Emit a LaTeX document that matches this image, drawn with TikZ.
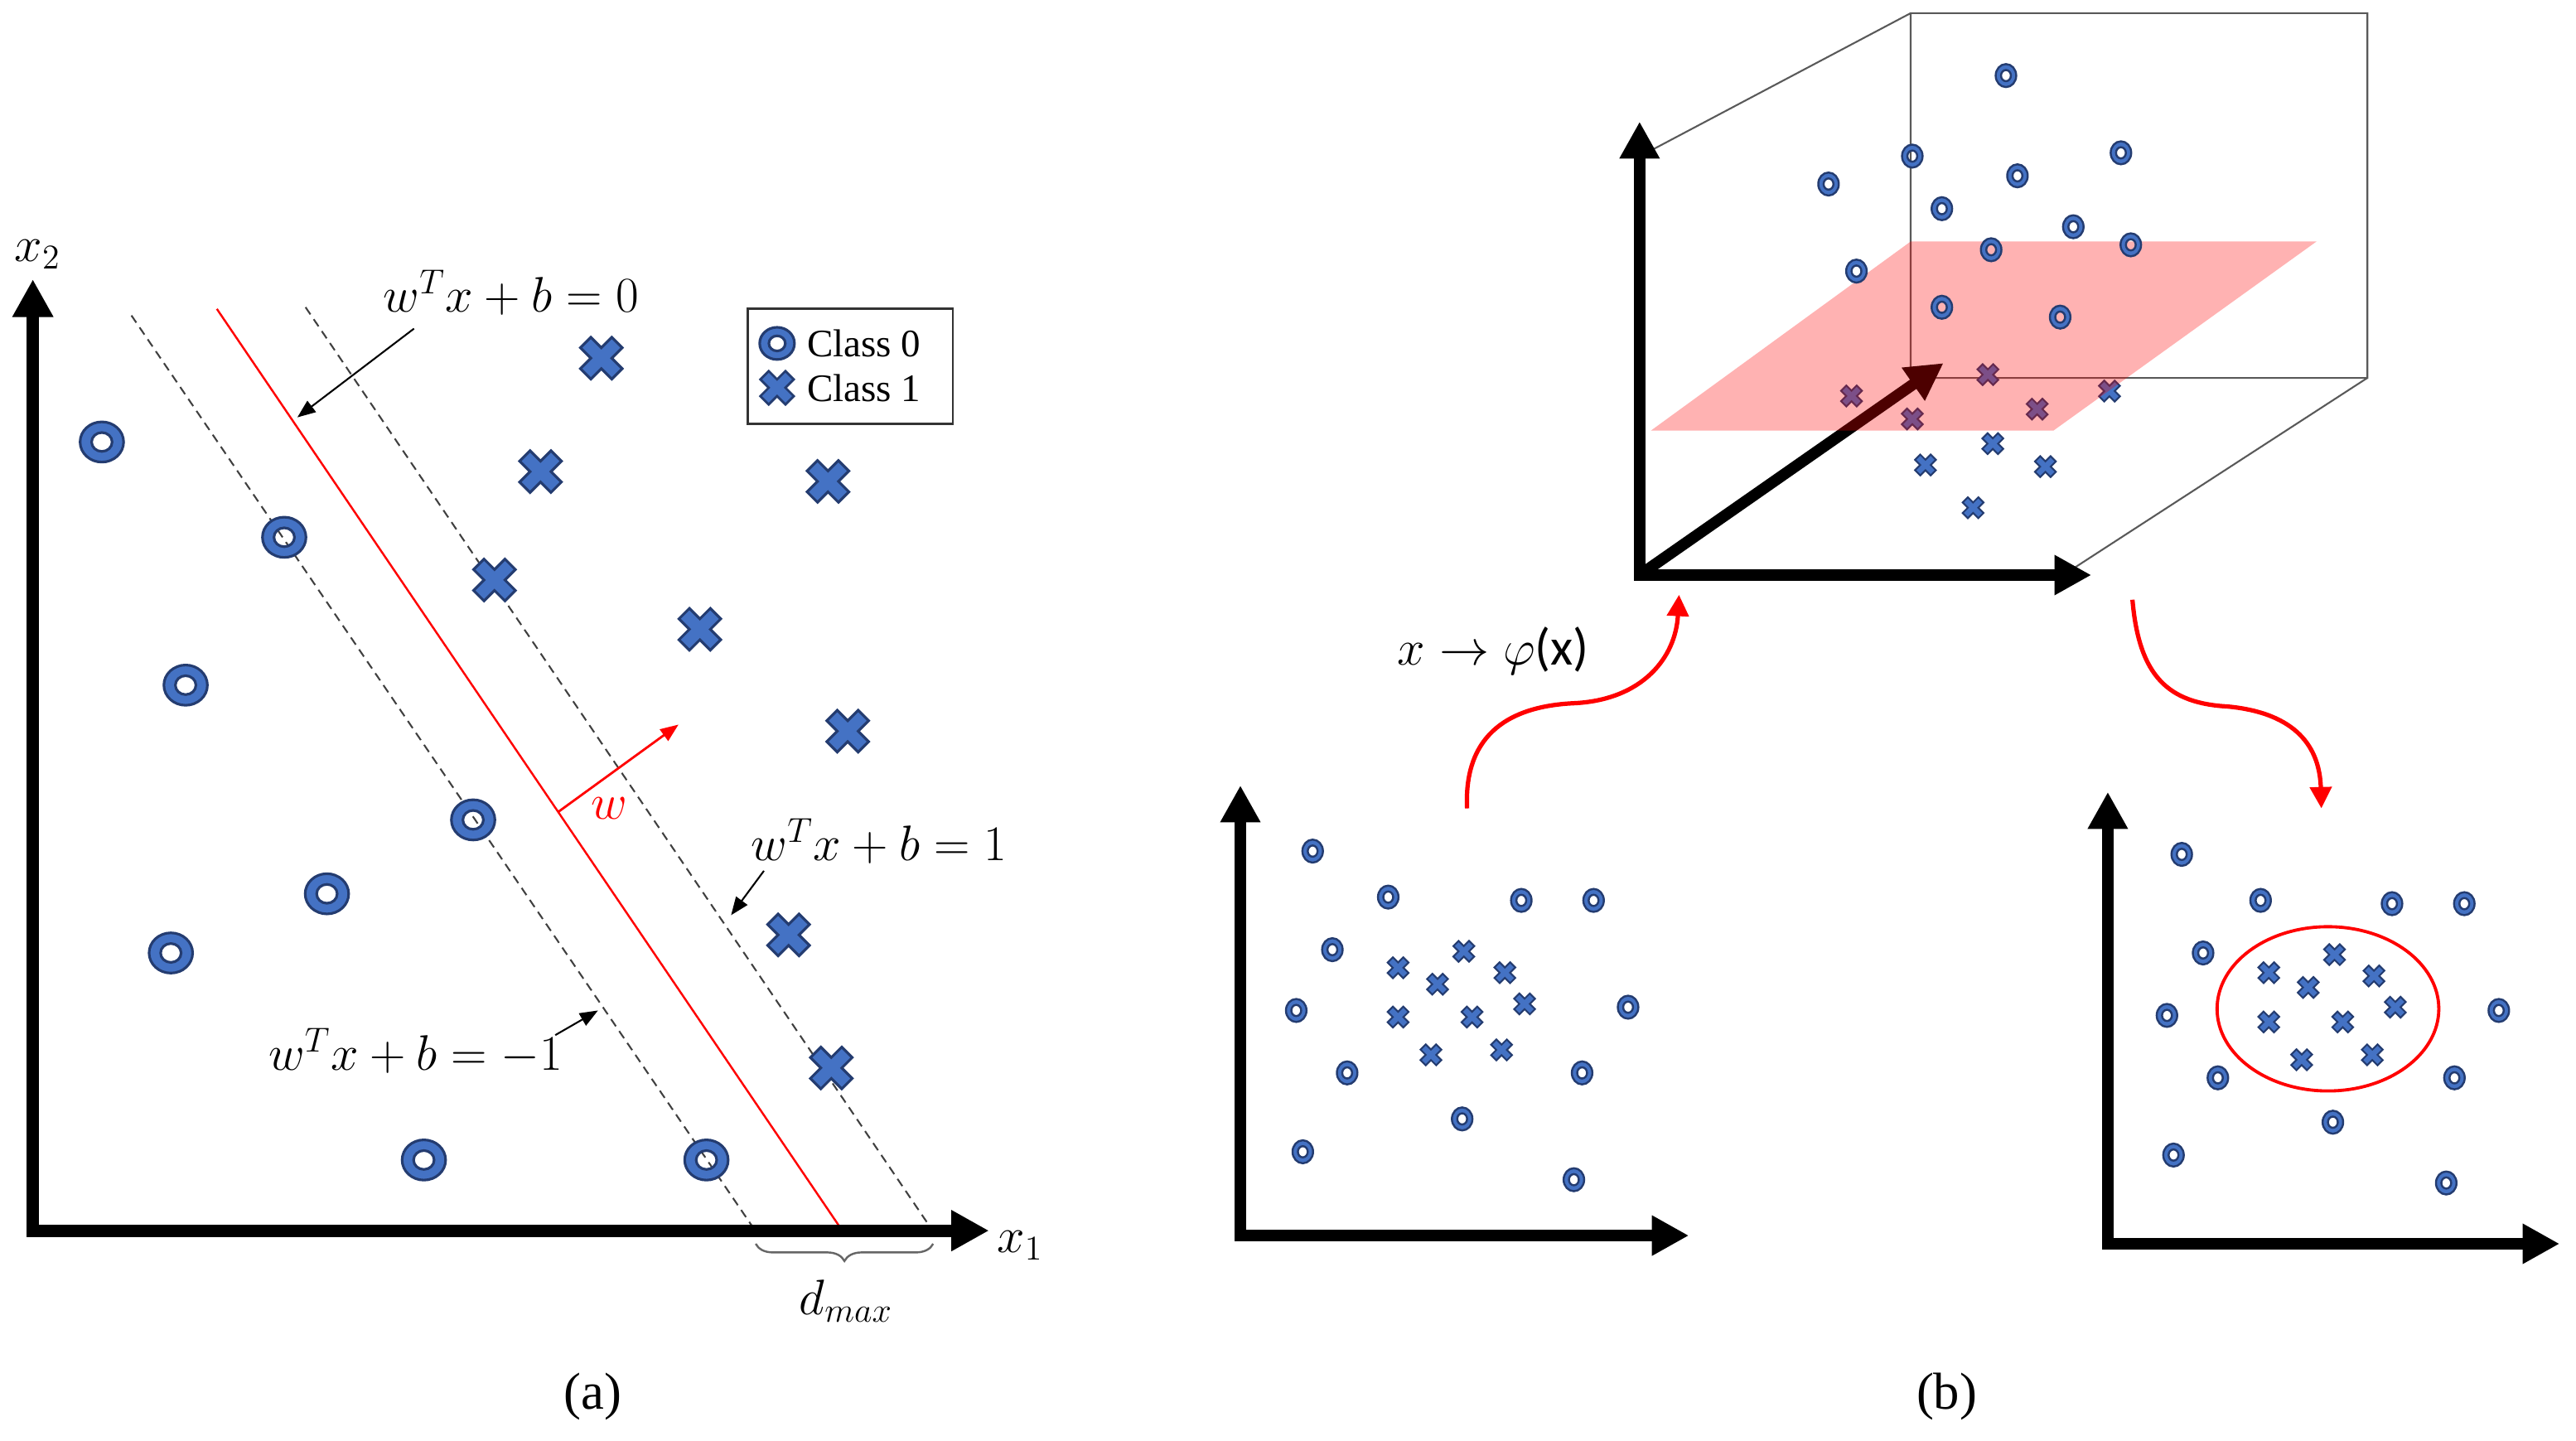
\documentclass[tikz,border=0pt]{standalone}
\usepackage{fontspec}
\setmainfont{Liberation Serif}
\newfontfamily\calfont{Carlito}
\usetikzlibrary{arrows.meta,decorations.pathreplacing,shapes.geometric}
\definecolor{mblue}{RGB}{68,114,196}
\definecolor{mdark}{RGB}{36,60,112}
\tikzset{
  pics/bigring/.style={code={
    \path[fill=mblue,draw=mdark,line width=0.9pt,even odd rule]
      (0,0) ellipse [x radius=0.265cm, y radius=0.245cm]
      (0,0) ellipse [x radius=0.125cm, y radius=0.115cm];}},
  pics/smallring/.style={code={
    \path[fill=mblue,draw=mdark,line width=0.7pt,even odd rule]
      (0,0) ellipse [x radius=0.125cm, y radius=0.14cm]
      (0,0) ellipse [x radius=0.06cm, y radius=0.068cm];}},
  pics/crossmark/.style={code={
    \path[fill=mblue,draw=mdark,line width=#1,rotate=45]
      (-0.09cm,0.27cm) -- (0.09cm,0.27cm) -- (0.09cm,0.09cm) -- (0.27cm,0.09cm)
      -- (0.27cm,-0.09cm) -- (0.09cm,-0.09cm) -- (0.09cm,-0.27cm) -- (-0.09cm,-0.27cm)
      -- (-0.09cm,-0.09cm) -- (-0.27cm,-0.09cm) -- (-0.27cm,0.09cm) -- (-0.09cm,0.09cm) -- cycle;}},
  bigaxis/.style={line width=4.3pt, line join=miter,
    arrows={Triangle[width=0.47cm,length=0.46cm]-Triangle[width=0.47cm,length=0.46cm]}},
  smallaxis/.style={line width=3.9pt, line join=miter,
    arrows={Triangle[width=0.46cm,length=0.45cm]-Triangle[width=0.46cm,length=0.45cm]}},
  diagaxis/.style={line width=3.9pt, arrows={-Triangle[width=0.46cm,length=0.45cm]}},
  dashline/.style={dash pattern=on 3pt off 2pt, line width=0.6pt, black!75},
  lblarrow/.style={line width=0.6pt, arrows={-Triangle[width=0.17cm,length=0.22cm]}},
  mathlbl/.style={font=\fontsize{17}{20}\selectfont, inner sep=1pt},
  cubeline/.style={line width=0.6pt, black!65},
  mapcurve/.style={red, line width=1.5pt, arrows={-Triangle[width=0.26cm,length=0.26cm]}},
  caption/.style={font=\fontsize{18}{21}\selectfont}
}
\begin{document}
\begin{tikzpicture}[x=0.02cm,y=-0.02cm]
\useasboundingbox (0,0) rectangle (1568,877);
% ---------------- panel (a) ----------------
\coordinate (dl1) at (80,192);  \coordinate (dl2) at (459,748);
\coordinate (rl1) at (132,188); \coordinate (rl2) at (512,748);
\coordinate (dr1) at (186,187); \coordinate (dr2) at (567,748);
\draw[dashline] (dl1) -- (dl2);
\draw[dashline] (dr1) -- (dr2);
\draw[red, line width=0.7pt] (rl1) -- (rl2);
% w vector
\coordinate (ws) at (340,494); \coordinate (we) at (413,441);
\draw[red, line width=0.8pt, arrows={-Triangle[width=0.17cm,length=0.22cm]}] (ws) -- (we);
\node[mathlbl, red] (wlbl) at (371,492) {$w$};
% axes
\coordinate (ya) at (20,170); \coordinate (oa) at (20,749); \coordinate (xa) at (602,749);
\draw[bigaxis] (ya) -- (oa) -- (xa);
\node[mathlbl] (x2lbl) at (23,155) {$x_2$};
\node[mathlbl] (x1lbl) at (621,758) {$x_1$};
% labels
\node[mathlbl] (l0) at (311,178) {$w^Tx+b=0$};
\coordinate (l0s) at (252,200); \coordinate (l0e) at (181,254);
\draw[lblarrow] (l0s) -- (l0e);
\node[mathlbl] (l1) at (535,512) {$w^Tx+b=1$};
\coordinate (l1s) at (465,530); \coordinate (l1e) at (445,557);
\draw[lblarrow] (l1s) -- (l1e);
\node[mathlbl] (lm1) at (253,640) {$w^Tx+b=-1$};
\coordinate (lm1s) at (338,630); \coordinate (lm1e) at (364,615);
\draw[lblarrow] (lm1s) -- (lm1e);
% brace
\coordinate (b1) at (460,757); \coordinate (b2) at (568,757);
\draw[decorate, decoration={brace, mirror, amplitude=0.21cm}, black!60, line width=0.7pt] (b1) -- (b2);
\node[mathlbl] (dmax) at (515,792) {$d_{max}$};
% points
\foreach \x/\y in {62/269,173/327,113/417,288/499,199/544,104/580,258/706,430/706}
  \pic at (\x,\y) {bigring};
\foreach \x/\y in {366/218,329/287,504/293,301/353,426/383,516/445,480/569,506/650}
  \pic at (\x,\y) {crossmark=0.9pt};
% legend
\draw[line width=0.8pt, black!80] (455,188) rectangle (580,258);
\pic[scale=0.8] at (473,209) {bigring};
\pic[scale=0.8] at (473,236) {crossmark=0.8pt};
\node[anchor=west, font=\fontsize{13.5}{16}\selectfont, inner sep=0pt] (c0) at (491,209) {Class 0};
\node[anchor=west, font=\fontsize{13.5}{16}\selectfont, inner sep=0pt] (c1) at (491,236) {Class 1};
\node[caption] (capa) at (361,850) {(a)};
% ---------------- panel (b): 3D ----------------
\coordinate (k1) at (1163,8);  \coordinate (k2) at (1441,8);
\coordinate (k3) at (1441,230); \coordinate (k4) at (1163,230);
\coordinate (k5) at (1006,91); \coordinate (k6) at (1262,346);
\draw[cubeline] (k5) -- (k1) -- (k2) -- (k3) -- (k4) -- (k1);
\draw[cubeline] (k3) -- (k6);
\coordinate (o3) at (998,350); \coordinate (z3) at (998,74); \coordinate (x3) at (1273,350);
\coordinate (d3) at (1183,221);
\draw[smallaxis] (z3) -- (o3) -- (x3);
\draw[diagaxis] (o3) -- (d3);
% crosses under the plane
\foreach \x/\y in {1127/241,1164/255,1210/228,1240/249,1284/238}
  \pic[scale=0.5] at (\x,\y) {crossmark=0.6pt};
\fill[red, opacity=0.3] (1005,262) -- (1163,147) -- (1410,147) -- (1250,262) -- cycle;
\foreach \x/\y in {1213/270,1172/283,1245/284,1201/309}
  \pic[scale=0.5] at (\x,\y) {crossmark=0.6pt};
\foreach \x/\y in {1221/46,1113/112,1164/95,1291/93,1228/107,1182/127,1262/138,1297/149,1130/165,1212/152,1182/187,1254/193}
  \pic at (\x,\y) {smallring};
% ---------------- panel (b): bottom left ----------------
\coordinate (o4) at (755,752); \coordinate (z4) at (755,478); \coordinate (x4) at (1028,752);
\draw[smallaxis] (z4) -- (o4) -- (x4);
\foreach \x/\y in {799/518,845/546,926/548,970/548,811/578,789/615,991/613,820/653,963/653,890/681,793/701,958/718}
  \pic at (\x,\y) {smallring};
\foreach \x/\y in {891/579,851/589,916/592,875/599,928/611,851/619,896/619,871/642,914/639}
  \pic[scale=0.5] at (\x,\y) {crossmark=0.6pt};
% ---------------- panel (b): bottom right ----------------
\coordinate (o5) at (1283,757); \coordinate (z5) at (1283,482); \coordinate (x5) at (1558,757);
\draw[smallaxis] (z5) -- (o5) -- (x5);
\foreach \x/\y in {1328/520,1376/548,1456/550,1500/550,1341/580,1319/618,1521/615,1350/656,1494/656,1420/683,1323/703,1489/720}
  \pic at (\x,\y) {smallring};
\foreach \x/\y in {1421/581,1381/592,1445/594,1405/601,1458/613,1381/622,1426/622,1401/645,1444/642}
  \pic[scale=0.5] at (\x,\y) {crossmark=0.6pt};
\node[draw=red, line width=1.1pt, ellipse, minimum width=2.7cm, minimum height=2.0cm, inner sep=0pt] (sep) at (1417,614) {};
% mapping arrows
\coordinate (m1s) at (893,492); \coordinate (m1m) at (958,428); \coordinate (m1e) at (1022,362);
\draw[mapcurve] (m1s) .. controls (891,450) and (915,430) .. (m1m) .. controls (1000,426) and (1020,400) .. (m1e);
\coordinate (m2s) at (1298,365); \coordinate (m2m) at (1356,430); \coordinate (m2e) at (1413,492);
\draw[mapcurve] (m2s) .. controls (1302,412) and (1320,428) .. (m2m) .. controls (1398,434) and (1412,455) .. (m2e);
\node[mathlbl, font=\fontsize{18}{21}\selectfont] (phi) at (909,396) {$x\rightarrow\varphi${\calfont (x)}};
\node[caption] (capb) at (1185,850) {(b)};
\end{tikzpicture}
\end{document}
